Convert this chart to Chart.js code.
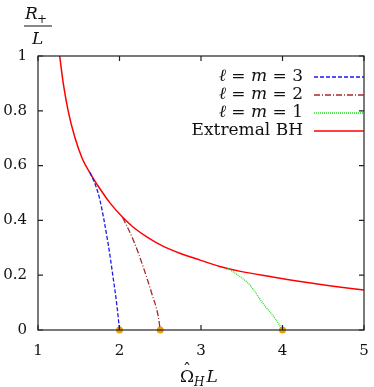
<!DOCTYPE html>
<html>
<head>
<meta charset="utf-8">
<script src="https://cdn.jsdelivr.net/npm/chart.js@4"></script>
<style>
  html, body { margin: 0; padding: 0; background: #fff; }
  #wrap { width: 374px; height: 387px; }
</style>
</head>
<body>
<div id="wrap"><canvas id="chart"></canvas></div>
<script>
// values
const extremalX = [1.266, 1.31, 1.37, 1.45, 1.54, 1.64, 1.75, 1.88, 2.03, 2.17, 2.33, 2.52, 2.74, 2.99, 3.23, 3.5, 3.85, 4.2, 4.6, 5.0];
const extremalY = [1.0, 0.90, 0.80, 0.705, 0.628, 0.572, 0.52, 0.465, 0.414, 0.375, 0.341, 0.308, 0.28, 0.255, 0.232, 0.213, 0.195, 0.178, 0.161, 0.146];

const lm3X = [1.64, 1.71, 1.76, 1.86, 1.92, 1.97, 2.0];
const lm3Y = [0.575, 0.525, 0.474, 0.316, 0.195, 0.085, 0.0];

const lm2X = [2.04, 2.17, 2.29, 2.395, 2.476, 2.5];
const lm2Y = [0.41, 0.328, 0.231, 0.134, 0.049, 0.0];

const lm1X = [3.33, 3.5, 3.6, 3.76, 3.91, 4.0];
const lm1Y = [0.225, 0.19, 0.164, 0.097, 0.042, 0.0];

const onsetX = [2.0, 2.5, 4.0];
const onsetY = [0, 0, 0];

const xTicks = [1, 2, 3, 4, 5];
const yTicks = [0, 0.2, 0.4, 0.6, 0.8, 1];

const serif = '"DejaVu Serif", serif';

function pts(xs, ys) {
  return xs.map((x, i) => ({ x: x, y: ys[i] }));
}

// draws a run of [text, italic] pieces ending at xRight
function drawPieces(ctx, pieces, xRight, y, size) {
  const widths = pieces.map(p => {
    ctx.font = (p[1] ? 'italic ' : '') + size + 'px ' + serif;
    return ctx.measureText(p[0]).width;
  });
  let x = xRight - widths.reduce((s, w) => s + w, 0);
  pieces.forEach((p, i) => {
    ctx.font = (p[1] ? 'italic ' : '') + size + 'px ' + serif;
    ctx.fillText(p[0], x, y);
    x += widths[i];
  });
}

// frame, inward ticks, custom legend and the LaTeX-like axis titles
const decorations = {
  id: 'decorations',
  afterDatasetsDraw(chart) {
    const { ctx, chartArea: a, scales } = chart;
    ctx.save();
    ctx.strokeStyle = '#222';
    ctx.lineWidth = 1.2;
    ctx.setLineDash([]);
    ctx.strokeRect(a.left, a.top, a.right - a.left, a.bottom - a.top);

    ctx.beginPath();
    xTicks.forEach(v => {
      const px = scales.x.getPixelForValue(v);
      ctx.moveTo(px, a.bottom); ctx.lineTo(px, a.bottom - 5);
      ctx.moveTo(px, a.top); ctx.lineTo(px, a.top + 5);
    });
    yTicks.forEach(v => {
      const py = scales.y.getPixelForValue(v);
      ctx.moveTo(a.left, py); ctx.lineTo(a.left + 5, py);
      ctx.moveTo(a.right, py); ctx.lineTo(a.right - 5, py);
    });
    ctx.stroke();

    // legend
    const items = chart.data.datasets.filter(d => d.legendText);
    ctx.fillStyle = '#111';
    ctx.textBaseline = 'middle';
    ctx.textAlign = 'left';
    items.forEach((d, i) => {
      const y = 77 + i * 18;
      drawPieces(ctx, d.legendText, 303, y, 17);
      ctx.beginPath();
      ctx.strokeStyle = d.borderColor;
      ctx.lineWidth = d.borderWidth;
      ctx.setLineDash(d.borderDash || []);
      ctx.moveTo(314, y);
      ctx.lineTo(a.right, y);
      ctx.stroke();
    });
    ctx.setLineDash([]);

    // x title: Ω̂_H L (hat drawn as its own glyph above the Omega)
    ctx.fillStyle = '#111';
    ctx.textAlign = 'left';
    ctx.textBaseline = 'alphabetic';
    const cx = 180;
    ctx.font = '17px ' + serif;
    ctx.fillText('\u03A9', cx, 382);
    const w = ctx.measureText('\u03A9').width;
    ctx.textAlign = 'center';
    ctx.fillText('\u02C6', cx + w / 2, 375);
    ctx.textAlign = 'left';
    ctx.font = 'italic 12px ' + serif;
    ctx.fillText('H', cx + w, 386);
    const w2 = ctx.measureText('H').width;
    ctx.font = 'italic 17px ' + serif;
    ctx.fillText('L', cx + w + w2 + 2, 382);

    // y title: R_+ / L
    ctx.font = 'italic 17px ' + serif;
    ctx.fillText('R', 25, 19);
    ctx.font = '12px ' + serif;
    ctx.fillText('+', 37, 23);
    ctx.beginPath();
    ctx.strokeStyle = '#111';
    ctx.lineWidth = 1;
    ctx.moveTo(24, 26); ctx.lineTo(52, 26);
    ctx.stroke();
    ctx.font = 'italic 17px ' + serif;
    ctx.fillText('L', 32, 44);
    ctx.restore();
  }
};

const lmText = n => [['\u2113', true], [' = ', false], ['m', true], [' = ' + n, false]];

new Chart(document.getElementById('chart'), {
  type: 'scatter',
  data: {
    datasets: [
      {
        legendText: lmText(3),
        data: pts(lm3X, lm3Y),
        showLine: true, pointRadius: 0,
        borderColor: '#1a1aee', borderWidth: 1.3, borderDash: [4, 2],
        cubicInterpolationMode: 'monotone'
      },
      {
        legendText: lmText(2),
        data: pts(lm2X, lm2Y),
        showLine: true, pointRadius: 0,
        borderColor: '#a52a2a', borderWidth: 1.3, borderDash: [6, 2, 1, 2],
        cubicInterpolationMode: 'monotone'
      },
      {
        legendText: lmText(1),
        data: pts(lm1X, lm1Y),
        showLine: true, pointRadius: 0,
        borderColor: '#22dd22', borderWidth: 1.3, borderDash: [1, 1],
        cubicInterpolationMode: 'monotone'
      },
      {
        legendText: [['Extremal BH', false]],
        data: pts(extremalX, extremalY),
        showLine: true, pointRadius: 0,
        borderColor: '#ff0000', borderWidth: 1.5,
        cubicInterpolationMode: 'monotone'
      },
      {
        data: pts(onsetX, onsetY),
        showLine: false, pointRadius: 3.5,
        backgroundColor: '#f0a000', borderColor: '#f0a000', borderWidth: 0
      }
    ]
  },
  options: {
    responsive: true,
    maintainAspectRatio: false,
    animation: false,
    clip: false,
    layout: { padding: { top: 56, right: 10, left: 0, bottom: 0 } },
    plugins: { legend: { display: false }, tooltip: { enabled: false } },
    scales: {
      x: {
        type: 'linear', min: 1, max: 5,
        grid: { display: false },
        border: { display: false },
        afterBuildTicks: s => { s.ticks = xTicks.map(v => ({ value: v })); },
        afterFit: s => { s.height = 57; },
        ticks: { padding: 4, color: '#111', font: { family: serif, size: 15 } }
      },
      y: {
        type: 'linear', min: 0, max: 1,
        grid: { display: false },
        border: { display: false },
        afterBuildTicks: s => { s.ticks = yTicks.map(v => ({ value: v })); },
        afterFit: s => { s.width = 38; },
        ticks: { padding: 3, color: '#111', font: { family: serif, size: 15 },
          callback: v => String(v) }
      }
    }
  },
  plugins: [decorations]
});
</script>
</body>
</html>
